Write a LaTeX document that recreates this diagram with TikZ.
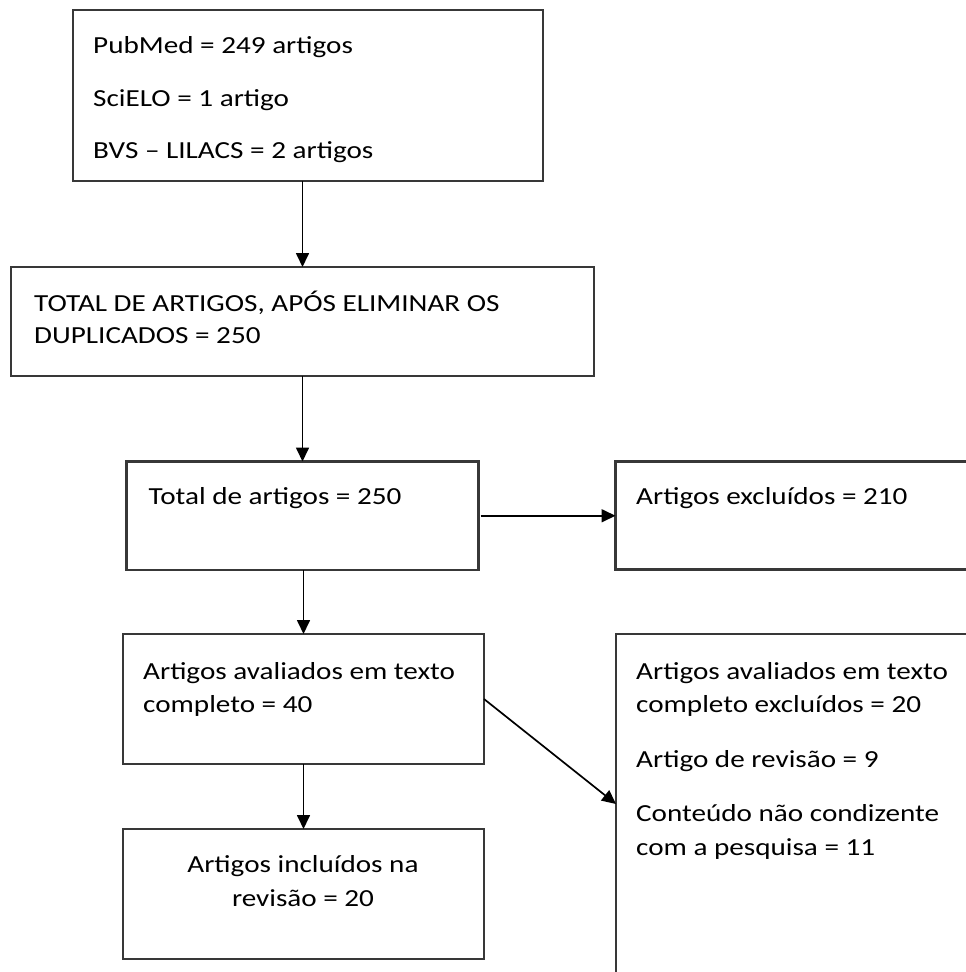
\documentclass[tikz,border=0pt]{standalone}
\usepackage{fontspec}
\setmainfont{Carlito}[FakeStretch=1.19]
\usetikzlibrary{arrows.meta}
\definecolor{boxgray}{HTML}{383838}
\begin{document}
\begin{tikzpicture}[x=1pt,y=-1pt,
  box/.style={draw=boxgray, line width=2.4pt, rectangle, inner sep=0pt, outer sep=0pt, anchor=north west},
  txt/.style={anchor=base west, inner sep=0pt, font=\fontsize{24.5}{33}\selectfont},
  ctxt/.style={txt, anchor=base},
  arr/.style={draw=black, line width=1.7pt, -{Triangle[length=14pt,width=13pt]}}]
\useasboundingbox (0,0) rectangle (966,972);
\clip (0,0) rectangle (966,972);
% boxes
\node[box, minimum width=470pt, minimum height=171pt] (b1) at (73,10) {};
\node[box, minimum width=583pt, minimum height=109pt] (b2) at (11,267) {};
\node[box, minimum width=352pt, minimum height=108.5pt] (b3) at (126.5,461.5) {};
\node[box, minimum width=420pt, minimum height=108pt] (b4) at (615.5,461.5) {};
\node[box, minimum width=361pt, minimum height=130pt] (b5) at (123,634) {};
\node[box, minimum width=420pt, minimum height=420pt] (b6) at (616,634) {};
\node[box, minimum width=361pt, minimum height=130pt] (b7) at (123,829) {};
% texts
\node[txt] (t1a) at (93,53) {PubMed = 249 artigos};
\node[txt] (t1b) at (93,106) {SciELO = 1 artigo};
\node[txt] (t1c) at (93,158) {BVS – LILACS = 2 artigos};
\node[txt] (t2a) at (34,311) {TOTAL DE ARTIGOS, APÓS ELIMINAR OS};
\node[txt] (t2b) at (34,343) {DUPLICADOS = 250};
\node[txt] (t3) at (148.5,504.5) {Total de artigos = 250};
\node[txt] (t4) at (636,504.5) {Artigos excluídos = 210};
\node[txt] (t5a) at (143,679) {Artigos avaliados em texto};
\node[txt] (t5b) at (143,712) {completo = 40};
\node[txt] (t6a) at (636,679) {Artigos avaliados em texto};
\node[txt] (t6b) at (636,712) {completo excluídos = 20};
\node[txt] (t6c) at (636,767) {Artigo de revisão = 9};
\node[txt] (t6d) at (636,821) {Conteúdo não condizente};
\node[txt] (t6e) at (636,855) {com a pesquisa = 11};
\node[ctxt] (t7a) at (303,872.5) {Artigos incluídos na};
\node[ctxt] (t7b) at (303,906) {revisão = 20};
% connectors
\draw[arr] (b1.south -| b2.north) -- (b2.north);
\draw[arr] (b2.south -| b3.north) -- (b3.north);
\draw[arr] ([xshift=2pt]b3.east) -- (b3.east -| b4.west);
\draw[arr] (b3.south -| b5.north) -- (b5.north);
\draw[arr] (b5.south) -- (b7.north);
\draw[arr] (b5.east) -- ([yshift=-170pt]b6.north west);
\end{tikzpicture}
\end{document}
